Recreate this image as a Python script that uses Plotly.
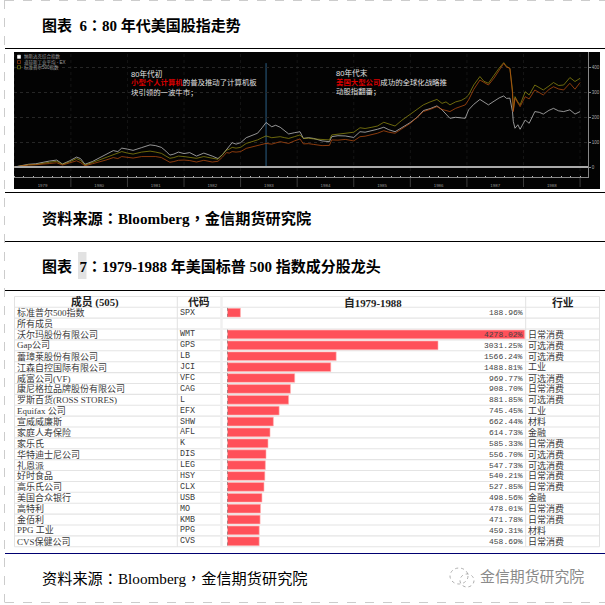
import plotly.graph_objects as go

W = 605
def px(x): return x / W
def py(y): return 1 - y / W

# ---------- index chart data ----------
years = [1979.0, 1979.12, 1979.25, 1979.38, 1979.5, 1979.62, 1979.75, 1979.85, 1979.97, 1980.1,
         1980.17, 1980.25, 1980.38, 1980.5, 1980.62, 1980.75, 1980.83, 1980.9, 1981.0, 1981.1,
         1981.25, 1981.4, 1981.5, 1981.6, 1981.68, 1981.75, 1981.82, 1981.9, 1982.0, 1982.1,
         1982.22, 1982.35, 1982.5, 1982.6, 1982.68, 1982.75, 1982.8, 1982.85, 1982.92, 1983.0,
         1983.1, 1983.2, 1983.3, 1983.38, 1983.45, 1983.55, 1983.62, 1983.7, 1983.78, 1983.85,
         1983.95, 1984.05, 1984.11, 1984.2, 1984.29, 1984.37, 1984.44, 1984.57, 1984.61, 1984.72,
         1984.85, 1985.0, 1985.11, 1985.2, 1985.32, 1985.42, 1985.53, 1985.62, 1985.73, 1985.85,
         1986.0, 1986.12, 1986.23, 1986.35, 1986.47, 1986.56, 1986.63, 1986.7, 1986.8, 1986.9,
         1986.97, 1987.03, 1987.12, 1987.23, 1987.3, 1987.38, 1987.48, 1987.57, 1987.65, 1987.7,
         1987.76, 1987.805, 1987.82, 1987.85, 1987.9, 1987.94, 1988.03, 1988.1, 1988.2, 1988.28,
         1988.35, 1988.45, 1988.53, 1988.62, 1988.71, 1988.82, 1988.91, 1989.0]
nasdaq = [0, 6, 11, 13, 19, 24, 28, 12, 24, 40,
          34, 11, 22, 36, 50, 66, 62, 76, 72, 67,
          78, 89, 86, 79, 64, 48, 52, 60, 54, 58,
          44, 56, 44, 34, 50, 71, 86, 98, 92, 98,
          118, 126, 136, 158, 179, 162, 168, 160, 146, 133,
          138, 142, 115, 118, 115, 109, 105, 102, 122, 126,
          125, 119, 142, 140, 146, 152, 160, 150, 142, 158,
          179, 200, 227, 235, 246, 230, 212, 196, 200, 198,
          196, 230, 252, 272, 262, 250, 265, 278, 286, 276,
          277, 223, 183, 156, 170, 152, 189, 176, 223, 220,
          213, 228, 236, 226, 223, 230, 213, 223]
sp500 = [0, 5, 9, 10, 16, 19, 23, 11, 20, 34,
         27, 8, 18, 28, 40, 52, 56, 62, 56, 52,
         60, 64, 60, 55, 44, 35, 38, 44, 42, 40,
         35, 42, 35, 31, 50, 68, 72, 79, 76, 79,
         95, 102, 109, 118, 125, 118, 120, 122, 118, 115,
         122, 129, 115, 116, 113, 112, 109, 109, 129, 132,
         136, 140, 158, 155, 160, 165, 180, 172, 165, 188,
         213, 232, 250, 262, 272, 256, 262, 250, 262, 268,
         277, 290, 330, 364, 345, 337, 370, 398, 420, 405,
         397, 310, 230, 283, 262, 250, 303, 290, 330, 318,
         310, 326, 340, 328, 330, 360, 344, 357]
dow = [0, 4, 8, 9, 13, 14, 17, 8, 16, 25,
       18, 5, 13, 20, 28, 38, 34, 42, 40, 36,
       42, 43, 42, 38, 28, 19, 22, 27, 28, 26,
       20, 27, 20, 23, 40, 58, 56, 62, 60, 62,
       75, 80, 85, 90, 95, 92, 98, 102, 98, 95,
       105, 113, 93, 94, 91, 88, 86, 87, 109, 108,
       111, 105, 122, 124, 129, 136, 146, 140, 136, 155,
       176, 200, 223, 232, 243, 232, 228, 223, 236, 244,
       250, 270, 312, 350, 340, 330, 358, 392, 417, 402,
       397, 297, 223, 277, 255, 243, 283, 274, 310, 300,
       290, 312, 323, 314, 310, 337, 313, 340]
year_labels = [str(y) for y in range(1979, 1989)]
y_ticks = [0, 100, 200, 300, 400]
legend_names = ["纳斯达克综合指数", "道琼斯工业平均 - EX", "标准普尔500指数"]
legend_colors = ["#ffffff", "#b8480f", "#8a8a10"]

# ---------- constituents table data ----------
members = ["标准普尔500指数", "所有成员", "沃尔玛股份有限公司", "Gap公司", "蕾璋莱股份有限公司", "江森自控国际有限公司",
           "威富公司(VF)", "康尼格拉品牌股份有限公司", "罗斯百货(ROSS STORES)", "Equifax 公司", "宣威威廉斯",
           "家庭人寿保险", "家乐氏", "华特迪士尼公司", "礼恩派", "好时食品", "高乐氏公司", "美国合众银行",
           "高特利", "金佰利", "PPG 工业", "CVS保健公司"]
tickers = ["SPX", "", "WMT", "GPS", "LB", "JCI", "VFC", "CAG", "L", "EFX", "SHW", "AFL", "K", "DIS",
           "LEG", "HSY", "CLX", "USB", "MO", "KMB", "PPG", "CVS"]
returns = [188.96, None, 4278.02, 3031.25, 1566.24, 1488.81, 969.77, 908.70, 881.85, 745.45, 662.44,
           614.73, 585.33, 556.70, 547.73, 540.21, 527.85, 498.56, 478.01, 471.78, 459.31, 458.69]
sectors = ["", "", "日常消费", "可选消费", "可选消费", "工业", "可选消费", "日常消费", "可选消费", "工业", "材料",
           "金融", "日常消费", "可选消费", "可选消费", "日常消费", "日常消费", "金融", "日常消费", "日常消费", "材料", "日常消费"]

CJK = "Liberation Sans, Noto Sans CJK SC"
SERIF = "Liberation Serif, Noto Sans CJK SC"
MONO = "Liberation Mono, Noto Sans CJK SC"
COLON = "<span style='font-family:Noto Sans CJK TC'>：</span>"
COMMA = "<span style='font-family:Noto Sans CJK TC'>，</span>"
NB = "\u00a0"

fig = go.Figure()
for name, vals, col in [("纳斯达克综合指数", nasdaq, "#c4c4c4"),
                        ("标准普尔500指数", sp500, "#8f8a10"),
                        ("道琼斯工业平均", dow, "#b84e10")]:
    fig.add_trace(go.Scatter(x=years, y=vals, mode="lines", name=name,
                             line=dict(color=col, width=0.75), xaxis="x", yaxis="y"))
idx = list(range(len(members)))
fig.add_trace(go.Bar(x=returns, y=idx, orientation="h", width=0.8, name="自1979-1988",
                     marker=dict(color="#ff5059", line=dict(color="#ffb4b4", width=0.6)),
                     xaxis="x2", yaxis="y2"))

shapes, ann = [], []
def hline(y, x0=5, x1=605, color="#000", w=1.0, dash="solid", layer="below"):
    shapes.append(dict(type="line", xref="paper", yref="paper", x0=px(x0), x1=px(x1), y0=py(y), y1=py(y),
                       line=dict(color=color, width=w, dash=dash), layer=layer))
def vline(x, y0, y1, color="#000", w=1.0, dash="solid", layer="below"):
    shapes.append(dict(type="line", xref="paper", yref="paper", x0=px(x), x1=px(x), y0=py(y0), y1=py(y1),
                       line=dict(color=color, width=w, dash=dash), layer=layer))
def text(x, y, t, size, color="#000", family=SERIF, anchor="left"):
    ann.append(dict(xref="paper", yref="paper", x=px(x), y=py(y), text=t, showarrow=False,
                    xanchor=anchor, yanchor="middle", align=anchor, borderpad=0,
                    font=dict(size=size, color=color, family=family)))

# page frame
hline(0.5, 5, 605, "#cccccc", 1, "dash")
hline(602.5, 5, 605, "#cccccc", 1, "dash")
vline(4.5, 0, 602.5, "#cccccc", 1, "dash")
hline(48.5); hline(192.5); hline(241.5); hline(290.5)
hline(553.5, color="#000070")

# black panel
shapes.append(dict(type="rect", xref="paper", yref="paper", x0=px(14), x1=px(600), y0=py(189), y1=py(52),
                   fillcolor="#030303", line=dict(width=0), layer="below"))
# highlighted 7
shapes.append(dict(type="rect", xref="paper", yref="paper", x0=px(78), x1=px(86.5), y0=py(279), y1=py(252),
                   fillcolor="#e2e2e2", line=dict(width=0), layer="below"))

# chart grid and markers
for yr in range(1979, 1990):
    shapes.append(dict(type="line", xref="x", yref="paper", x0=yr, x1=yr, y0=py(177), y1=py(52),
                       line=dict(color="#222222", width=0.6, dash="dot"), layer="below"))
    if yr > 1979:
        shapes.append(dict(type="line", xref="x", yref="paper", x0=yr, x1=yr, y0=py(178), y1=py(187),
                           line=dict(color="#555555", width=0.7), layer="below"))
shapes.append(dict(type="line", xref="x", yref="y", x0=1983.45, x1=1983.45, y0=0, y1=418,
                   line=dict(color="#2c5f86", width=1), layer="below"))
shapes.append(dict(type="line", xref="x", yref="y", x0=1979, x1=1989.14, y0=0, y1=0,
                   line=dict(color="#aaaaaa", width=2.2), layer="above"))

# titles
text(40.8, 24, f"<b>图表{NB}{NB}6{COLON}80 年代美国股指走势</b>", 15)
text(40.8, 217, f"<b>资料来源{COLON}Bloomberg{COMMA}金信期货研究院</b>", 15.2)
text(40.8, 265, f"<b>图表{NB}{NB}7{COLON}1979-1988 年美国标普 500 指数成分股龙头</b>", 15)
text(40.8, 577, f"资料来源{COLON}Bloomberg{COMMA}金信期货研究院", 15.2)
text(479, 576.5, "金信期货研究院", 14.9, "#8a8a8a", CJK)

# watermark icon
for x0, y0, x1, y1 in [(450, 568, 468, 584), (460, 574, 474, 587)]:
    shapes.append(dict(type="circle", xref="paper", yref="paper", x0=px(x0), x1=px(x1), y0=py(y1), y1=py(y0),
                       line=dict(color="#9a9a9a", width=0.8, dash="dot"), layer="above"))

# chart annotations
text(129.5, 73.5, "80年代初", 7.6, "#e0e0e0", CJK)
text(129.5, 83, "<span style='color:#d80000'><b>小型个人计算机</b></span>的普及推动了计算机板", 7.4, "#e0e0e0", CJK)
text(129.5, 92.5, "块引领的一波牛市；", 7.4, "#e0e0e0", CJK)
text(334.5, 72.5, "80年代末", 7.6, "#e0e0e0", CJK)
text(334.5, 82, "<span style='color:#d80000'><b>美国大型公司</b></span>成功的全球化战略推", 7.4, "#e0e0e0", CJK)
text(334.5, 92, "动股指翻番；", 7.4, "#e0e0e0", CJK)

# chart legend
for i, (n, c) in enumerate(zip(legend_names, legend_colors)):
    y = 56.8 + i * 5.2
    shapes.append(dict(type="rect", xref="paper", yref="paper", x0=px(17.5), x1=px(20.5), y0=py(y + 1.6), y1=py(y - 1.6),
                       fillcolor=c if i == 0 else "rgba(0,0,0,0)", line=dict(color=c, width=0.6), layer="above"))
    text(23, y, n, 4.5, "#a0a0a0", CJK)

# table grid
TOP, ROW = 307.26, 10.886
hline(296.5, 14.5, 599.5, "#e4e4e4", 1)
hline(TOP, 14.5, 599.5, "#e4e4e4", 1.2)
for i in range(1, 23):
    hline(TOP + i * ROW, 14.5, 599.5, "#e4e4e4", 1.1)
for x in (14.5, 177.3, 525.7, 599.5):
    vline(x, 296.5, TOP + 22 * ROW, "#e2e2e2", 1)
vline(221.5, 296.5, TOP + 22 * ROW, "#f0f0f0", 2.5)

# table headers
text(95, 302, "<b>成员 (505)</b>", 10.8, "#222", SERIF, "center")
text(199, 302, "<b>代码</b>", 10.8, "#222", SERIF, "center")
text(373, 302, "<b>自1979-1988</b>", 10.8, "#222", SERIF, "center")
text(562.5, 302, "<b>行业</b>", 10.8, "#222", SERIF, "center")

# table cells, placed on the bar chart's category positions
for i, (m, t, r, s) in enumerate(zip(members, tickers, returns, sectors)):
    ax = dict(yref="y2", y=i, showarrow=False, yanchor="middle", borderpad=0)
    ann.append(dict(ax, xref="paper", x=px(15.5), xanchor="left", text=m,
                    font=dict(size=9, color="#3a3a3a", family=SERIF)))
    if t:
        ann.append(dict(ax, xref="paper", x=px(178.5), xanchor="left", text=t,
                        font=dict(size=8.4, color="#3a3a3a", family=MONO)))
    if r is not None:
        ann.append(dict(ax, xref="paper", x=px(524), xanchor="right", text=f"{r:.2f}%",
                        font=dict(size=8, color="#444", family=MONO)))
        shapes.append(dict(type="line", xref="x2", yref="y2", x0=0, x1=0, y0=i - 0.45, y1=i + 0.45,
                           line=dict(color="#444", width=0.8, dash="dot"), layer="above"))
    if s:
        ann.append(dict(ax, xref="paper", x=px(527), xanchor="left", text=s,
                        font=dict(size=9, color="#3a3a3a", family=SERIF)))

fig.update_layout(
    width=W, height=W, margin=dict(l=0, r=0, t=0, b=0), autosize=False,
    paper_bgcolor="#ffffff", plot_bgcolor="rgba(0,0,0,0)", showlegend=False,
    shapes=shapes, annotations=ann, bargap=0.2,
    xaxis=dict(domain=[px(14), px(588)], range=[1978.995, 1989.14], tickmode="array",
               tickvals=[y + 0.5 for y in range(1979, 1989)], ticktext=year_labels,
               tickfont=dict(size=4.4, color="#999999", family="Liberation Sans"),
               ticks="outside", ticklen=4, tickcolor="rgba(0,0,0,0)",
               showgrid=False, zeroline=False, showline=True, linecolor="#888888", linewidth=0.8,
               minor=dict(ticks="inside", dtick=1 / 6, tick0=1979, ticklen=1.5, tickcolor="#bbbbbb", tickwidth=0.6),
               anchor="y"),
    yaxis=dict(domain=[py(177), py(52)], range=[-40.2, 462.8], tickmode="array", tickvals=y_ticks,
               side="right", tickfont=dict(size=4.5, color="#aaaaaa", family="Liberation Sans"),
               ticks="outside", ticklen=2, tickcolor="#888888", tickwidth=0.6,
               showgrid=True, gridcolor="#262626", gridwidth=0.6, griddash="dot", zeroline=False,
               showline=True, linecolor="#888888", linewidth=0.8, anchor="x"),
    xaxis2=dict(domain=[px(227.3), px(525.5)], range=[0, 4290], visible=False, anchor="y2"),
    yaxis2=dict(domain=[py(TOP + 22 * ROW), py(TOP)], range=[21.5, -0.5], visible=False, anchor="x2"),
)
fig.write_html("out.html", config=dict(displayModeBar=False),
               post_script="document.body.style.margin='0';document.body.style.overflow='hidden';")
